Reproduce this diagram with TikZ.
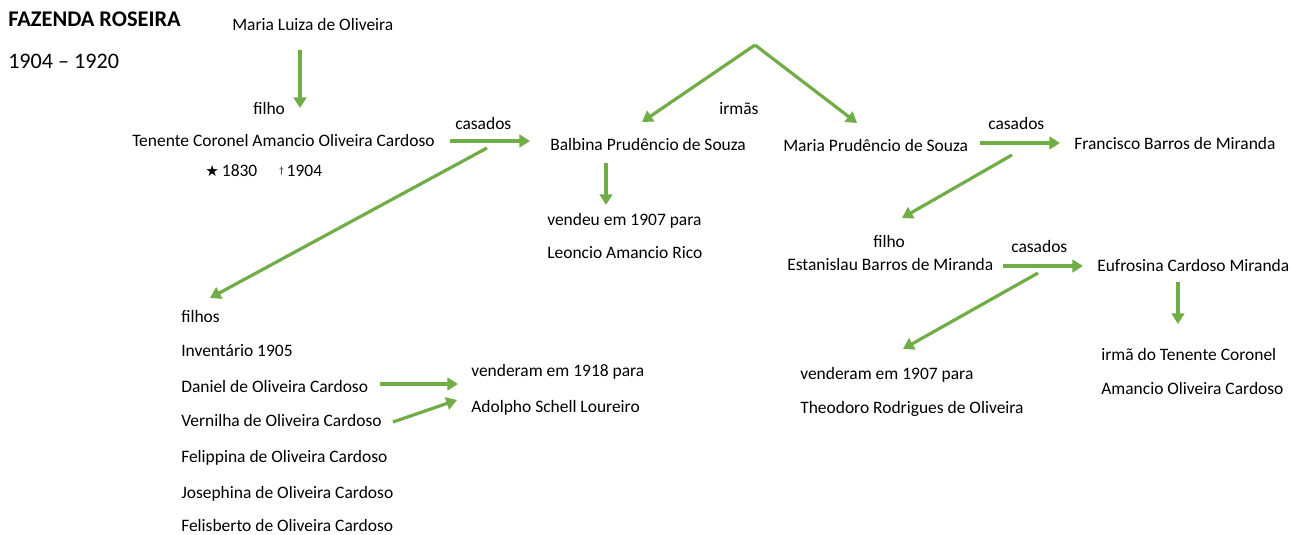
\documentclass[tikz,border=0pt]{standalone}
\usepackage{fontspec}
\setmainfont{Carlito}
\newfontfamily\symbfont{DejaVu Sans}
\usetikzlibrary{arrows.meta}
\definecolor{leafgreen}{RGB}{112,173,71}
\tikzset{
  txt/.style={anchor=west, inner sep=0pt, text height=1.6ex, text depth=.4ex,
    yshift=-2.2pt, font=\fontsize{13.1}{15}\selectfont},
  arr/.style={draw=leafgreen, line width=2.4pt,
    -{Triangle[length=8pt,width=9.5pt]}},
}
\begin{document}
\begin{tikzpicture}[x=0.75pt,y=-0.75pt]
      \useasboundingbox (0,0) rectangle (1290,535);
      % title
      \node[txt, font=\fontsize{16.8}{19}\selectfont\bfseries] (title) at (8,20) {FAZENDA ROSEIRA};
      \node[txt, font=\fontsize{16.6}{19}\selectfont] (years) at (8,62) {1904 -- 1920};
      % Amancio's side
      \node[txt] (mluiza) at (232,24) {Maria Luiza de Oliveira};
      \node[txt] (filho1) at (253,108) {filho};
      \node[txt] (tenente) at (132,140) {Tenente Coronel Amancio Oliveira Cardoso};
      \node[txt] (dates) at (205,170) {{\symbfont\fontsize{11.5}{13}\selectfont ★}\,1830\hspace{1.25em}\raisebox{.35ex}{\scriptsize †}\,1904};
      \node[txt] (casados1) at (455,123) {casados};
      % the sisters
      \node[txt] (balbina) at (550,144) {Balbina Prudêncio de Souza};
      \node[txt] (irmas) at (719,108) {irmãs};
      \node[txt] (mprudencio) at (783,145) {Maria Prudêncio de Souza};
      \node[txt] (vendeu) at (547,219) {vendeu em 1907 para};
      \node[txt] (leoncio) at (547,252) {Leoncio Amancio Rico};
      % Miranda side
      \node[txt] (casados2) at (988,123) {casados};
      \node[txt] (francisco) at (1074,143) {Francisco Barros de Miranda};
      \node[txt] (filho2) at (873,241) {filho};
      \node[txt] (estanislau) at (787,264) {Estanislau Barros de Miranda};
      \node[txt] (casados3) at (1011,246) {casados};
      \node[txt] (eufrosina) at (1097,265) {Eufrosina Cardoso Miranda};
      \node[txt] (irma) at (1101,354) {irmã do Tenente Coronel};
      \node[txt] (amancio) at (1101,388) {Amancio Oliveira Cardoso};
      \node[txt] (vend1907) at (800,373) {venderam em 1907 para};
      \node[txt] (theodoro) at (800,407) {Theodoro Rodrigues de Oliveira};
      % the children
      \node[txt] (filhos) at (181,316) {filhos};
      \node[txt] (inventario) at (181,350) {Inventário 1905};
      \node[txt] (daniel) at (181,386) {Daniel de Oliveira Cardoso};
      \node[txt] (vernilha) at (181,420) {Vernilha de Oliveira Cardoso};
      \node[txt] (felippina) at (181,456) {Felippina de Oliveira Cardoso};
      \node[txt] (josephina) at (181,492) {Josephina de Oliveira Cardoso};
      \node[txt] (felisberto) at (181,525) {Felisberto de Oliveira Cardoso};
      \node[txt] (vend1918) at (471,370) {venderam em 1918 para};
      \node[txt] (adolpho) at (471,406) {Adolpho Schell Loureiro};
      % free arrow ends
      \coordinate (mluiza-out) at (300,50);
      \coordinate (filho1-in) at (300,108);
      \coordinate (tenente-out) at (487,148);
      \coordinate (filhos-in) at (210,298);
      \coordinate (apex) at (755,45);
      \coordinate (balbina-in) at (642,122);
      \coordinate (mprudencio-in) at (857,123);
      \coordinate (mprudencio-out) at (1012,155);
      \coordinate (filho2-in) at (902,218);
      \coordinate (estanislau-out) at (1038,273);
      \coordinate (vend1907-in) at (903,349);
      % arrows
      \draw[arr] (mluiza-out) -- (filho1-in);
      \draw[arr] (450,141) -- (530,141);
      \draw[arr] (tenente-out) -- (filhos-in);
      \draw[arr] (apex) -- (balbina-in);
      \draw[arr] (apex) -- (mprudencio-in);
      \draw[arr] (606,163) -- (606,205);
      \draw[arr] (980,143) -- (1060,143);
      \draw[arr] (mprudencio-out) -- (filho2-in);
      \draw[arr] (1003,266) -- (1083,266);
      \draw[arr] (1178,282) -- (1178,324);
      \draw[arr] (estanislau-out) -- (vend1907-in);
      \draw[arr] (380,384) -- (458,384);
      \draw[arr] (393,422) -- (457,400);
    \end{tikzpicture}
\end{document}
